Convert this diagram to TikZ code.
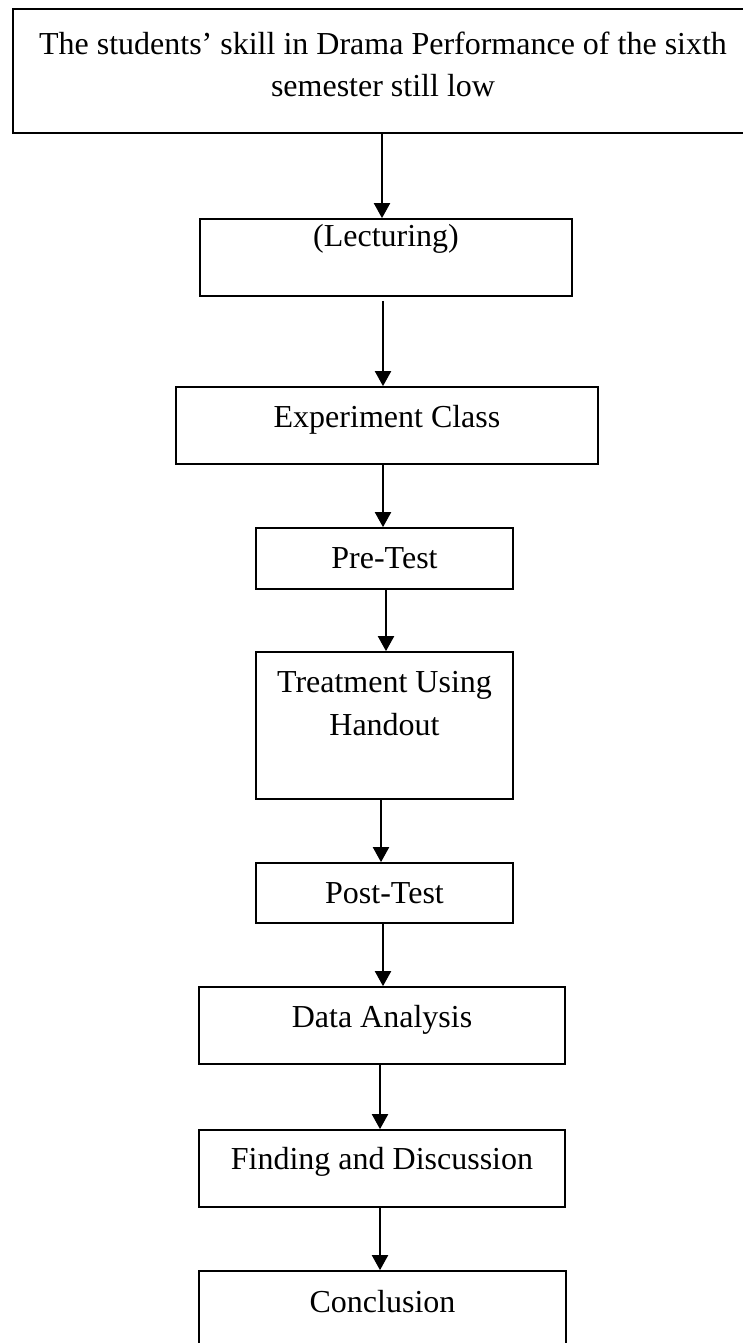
\documentclass[tikz,border=0pt]{standalone}
\usepackage{fontspec}
\setmainfont{Liberation Serif}
\usepackage{tikz}
\usetikzlibrary{arrows.meta}

\tikzset{
	flowbox/.style={draw, line width=1.7pt, inner sep=0pt, anchor=base,
		font=\fontsize{32}{42.5}\selectfont},
	flowarrow/.style={-{Triangle[width=16pt,length=15pt]}, line width=2pt}
}

\begin{document}
\begin{tikzpicture}[x=1pt, y=-1pt]
		\useasboundingbox (0,0) rectangle (743,1343);
		\node[flowbox, align=center, minimum width=740pt, text height=88pt, text depth=36pt] (problem) at (383,97) {The students’ skill in Drama Performance of the sixth\\semester still low};
		\node[flowbox, minimum width=372pt, text height=27pt, text depth=50pt] (lecture) at (386,246) {(Lecturing)};
		\node[flowbox, minimum width=422pt, text height=40pt, text depth=37pt] (experiment) at (387,427) {Experiment Class};
		\node[flowbox, minimum width=257pt, text height=40pt, text depth=21pt] (pretest) at (384.5,568) {Pre-Test};
		\node[flowbox, align=center, minimum width=257pt, text height=83pt, text depth=64pt] (treatment) at (384.5,735) {Treatment Using\\Handout};
		\node[flowbox, minimum width=257pt, text height=40pt, text depth=20pt] (posttest) at (384.5,903) {Post-Test};
		\node[flowbox, minimum width=366pt, text height=40pt, text depth=37pt] (analysis) at (382,1027) {Data Analysis};
		\node[flowbox, minimum width=366pt, text height=39pt, text depth=38pt] (finding) at (382,1169) {Finding and Discussion};
		\node[flowbox, minimum width=367pt, text height=41pt, text depth=45pt] (conclusion) at (382.5,1312) {Conclusion};
		% arrows between the steps
		\draw[flowarrow] ([xshift=-1pt]problem.south) -- ([xshift=-4pt]lecture.north);
		\draw[flowarrow] ([xshift=-3pt,yshift=-4pt]lecture.south) -- ([xshift=-4pt]experiment.north);
		\draw[flowarrow] ([xshift=-4pt]experiment.south) -- ([xshift=-1.5pt]pretest.north);
		\draw[flowarrow] ([xshift=1.5pt]pretest.south) -- ([xshift=1.5pt]treatment.north);
		\draw[flowarrow] ([xshift=-3.5pt]treatment.south) -- ([xshift=-3.5pt]posttest.north);
		\draw[flowarrow] ([xshift=-1.5pt]posttest.south) -- ([xshift=1pt]analysis.north);
		\draw[flowarrow] ([xshift=-2pt]analysis.south) -- ([xshift=-2pt]finding.north);
		\draw[flowarrow] ([xshift=-2pt]finding.south) -- ([xshift=-2.5pt]conclusion.north);
	\end{tikzpicture}
\end{document}
